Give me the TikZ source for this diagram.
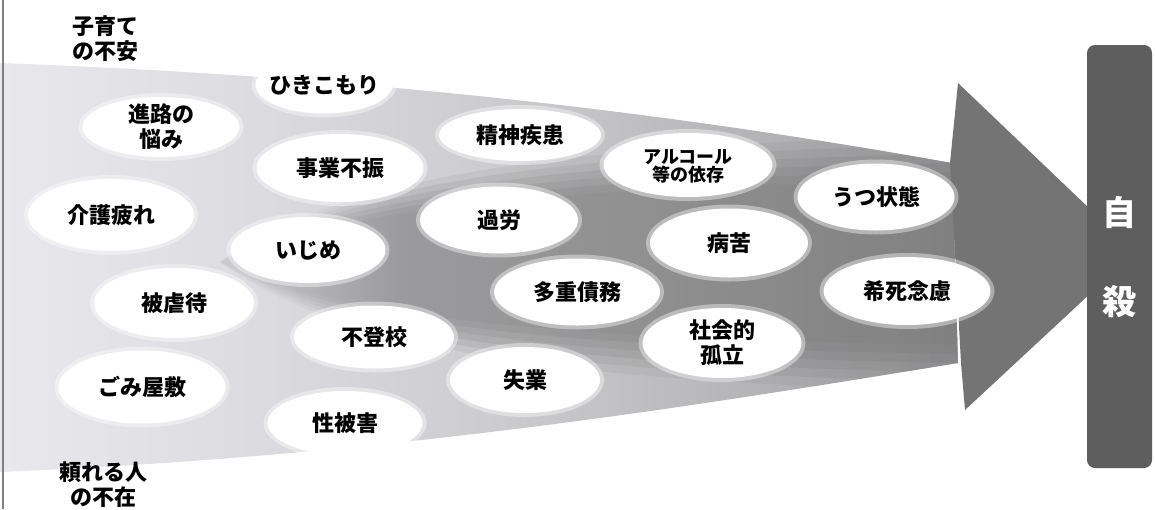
\documentclass[tikz,border=0pt]{standalone}
\usepackage{fontspec}
\setmainfont{Noto Sans CJK JP}
\definecolor{barGray}{RGB}{94,94,94}
\definecolor{headGray}{RGB}{116,116,116}
\pgfdeclarehorizontalshading{coreShade}{100bp}{rgb(0bp)=(.8,.8,.81); rgb(25bp)=(.8,.8,.81); rgb(37bp)=(.58,.58,.59); rgb(50bp)=(.55,.55,.55); rgb(75bp)=(.49,.49,.49); rgb(100bp)=(.49,.49,.49)}
\pgfdeclarehorizontalshading{edgeShade}{100bp}{rgb(0bp)=(.91,.91,.93); rgb(25bp)=(.91,.91,.93); rgb(38bp)=(.86,.86,.88); rgb(51bp)=(.8,.8,.81); rgb(75bp)=(.63,.63,.64); rgb(100bp)=(.63,.63,.64)}
\begin{document}
\begin{tikzpicture}[x = 1pt, y = -1pt,
	bubble/.style = {fill = white},
	tag/.style = {align = center, inner sep = 0pt, font = \fontsize{22}{25}\selectfont\bfseries}]
	\fill[white] (0, 0) rectangle (1155, 509);
	\useasboundingbox (0, 0) rectangle (1155, 509);
	\begin{scope}
		\clip (0, 63) .. controls (400, 78) and (700, 118) .. (952, 163) -- (958, 363) .. controls (700, 405) and (400, 455) .. (0, 472) -- cycle;
		\shade[shading = edgeShade] (0, 60) rectangle (960, 475);
		\foreach \s/\o in {1.4/0.15, 1.3/0.2, 1.2/0.25, 1.1/0.3, 1/0.4, 0.9/0.4}
		{
			\shade[shading = coreShade, opacity = \o, yshift = -262pt, yscale = \s, yshift = 262pt] (220, 262) .. controls (350, 195) and (600, 178) .. (952, 172) -- (958, 354) .. controls (600, 348) and (350, 330) .. (220, 262) -- cycle;
		}
	\end{scope}
	\fill[headGray] (950, 163) -- (958, 83) -- (1135, 252) -- (965, 410) -- (961, 363) -- cycle;
	\foreach \n/\x/\y/\w/\h/\t in {hiki/324/85/137/57/ひきこもり, shinro/161/127/157/60/{進路の\\悩み}, seishin/520/135/162/52/精神疾患, jigyou/340/168/167/68/事業不振, utsu/876/197/157/67/うつ状態, kaigo/111/215/166/72/介護疲れ, karou/499/220/158/67/過労, ijime/308/250/155/66/いじめ, byouku/729/243/158/69/病苦, taju/577/292/166/67/多重債務, kishi/907/291/167/68/希死念慮, higyaku/174/303/160/70/被虐待, futoukou/374/337/160/63/不登校, shakai/722/343/159/70/{社会的\\孤立}, shitsugyou/525/380/150/66/失業, gomi/142/387/167/73/ごみ屋敷, seihigai/345/423/155/64/性被害}
	{
		\fill[bubble, opacity = 0.4] (\x, \y) ellipse [x radius = \w / 2 + 4, y radius = \h / 2 + 4];
		\fill[bubble] (\x, \y) ellipse [x radius = \w / 2, y radius = \h / 2];
		\node[tag] (\n) at (\x, \y) {\t};
	}
	\fill[bubble, opacity = 0.4] (688, 165) ellipse [x radius = 88.5, y radius = 36];
	\fill[bubble] (688, 165) ellipse [x radius = 84.5, y radius = 32];
	\node[tag, font = \fontsize{18}{18}\selectfont\bfseries] (alcohol) at (688, 166) {アルコール\\等の依存};
	\node[tag] (kosodate) at (105, 39) {子育て\\の不安};
	\node[tag] (tayoreru) at (103, 485) {頼れる人\\の不在};
	\fill[barGray, rounded corners = 8] (1087, 45) rectangle (1152, 468);
	\node[tag, white, font = \fontsize{34}{34}\selectfont\bfseries] (ji) at (1119, 213) {自};
	\node[tag, white, font = \fontsize{34}{34}\selectfont\bfseries] (satsu) at (1119, 302) {殺};
	\draw[gray, line width = 1.2] (3, 0) -- (3, 509);
\end{tikzpicture}
\end{document}
